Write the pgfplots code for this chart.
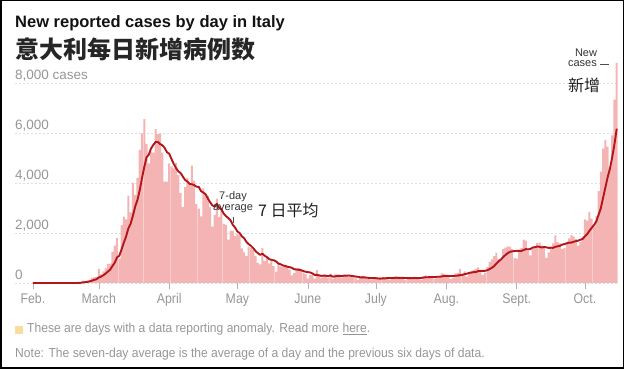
\documentclass[border=0pt]{standalone}
\usepackage{fontspec}
\setmainfont{Liberation Sans}
\newfontfamily\cond[FakeStretch=0.88]{Liberation Sans}
\newfontfamily\condb[FakeStretch=0.93]{Liberation Sans}
\newfontfamily\cjk{Noto Sans CJK SC}
\usepackage{pgfplots}
\pgfplotsset{compat=1.18}
\usepackage{pgfplotstable}
\definecolor{barc}{RGB}{244,180,180}
\definecolor{linec}{RGB}{178,22,26}
\definecolor{gridc}{RGB}{222,222,222}
\definecolor{labc}{RGB}{150,150,150}
\definecolor{anom}{RGB}{247,222,160}
\pgfplotstableread{
d c a
0 0 0
1 0 0
2 0 0
3 0 0
4 0 0
5 0 0
6 0 0
7 0 0
8 0 0
9 0 0
10 0 0
11 0 0
12 0 0
13 0 0
14 0 0
15 0 0
16 0 0
17 0 0
18 0 0
19 0 0
20 17 2
21 45 9
22 93 22
23 74 33
24 93 46
25 131 65
26 202 94
27 233 124
28 240 152
29 566 220
30 342 258
31 466 311
32 587 377
33 769 458
34 778 535
35 1247 679
36 1492 812
37 1797 1019
38 977 1092
39 2313 1339
40 2651 1608
41 2547 1861
42 3497 2182
43 2823 2372
44 4000 2687
45 3526 3051
46 4207 3322
47 5322 3703
48 5986 4194
49 6557 4632
50 5560 5023
51 4789 5135
52 5249 5381
53 5210 5525
54 6153 5643
55 5959 5640
56 5974 5556
57 5217 5507
58 4050 5402
59 4053 5231
60 4782 5170
61 4668 4958
62 4585 4761
63 4805 4594
64 4316 4466
65 3599 4401
66 3039 4256
67 3836 4121
68 4204 4055
69 3951 3964
70 4694 3948
71 4092 3916
72 3153 3853
73 2972 3843
74 2667 3676
75 3786 3616
76 3493 3551
77 3491 3379
78 3047 3230
79 2256 3102
80 2729 3067
81 3370 3167
82 2646 3005
83 3021 2937
84 2357 2775
85 2324 2672
86 1739 2598
87 2091 2507
88 2086 2323
89 1872 2213
90 1965 2062
91 1900 1997
92 1389 1863
93 1221 1789
94 1075 1644
95 1444 1552
96 1401 1485
97 1327 1394
98 1083 1277
99 802 1193
100 744 1125
101 1402 1172
102 888 1092
103 992 1034
104 789 957
105 875 927
106 675 909
107 451 867
108 813 783
109 665 751
110 642 701
111 652 682
112 669 652
113 531 632
114 300 610
115 397 551
116 584 539
117 593 532
118 516 513
119 416 477
120 355 452
121 178 434
122 318 423
123 321 385
124 177 326
125 518 326
126 270 305
127 197 283
128 280 297
129 283 292
130 202 275
131 379 304
132 163 253
133 346 264
134 338 284
135 301 287
136 210 277
137 329 295
138 333 289
139 251 301
140 262 289
141 224 273
142 218 261
143 122 248
144 190 229
145 296 223
146 259 224
147 175 212
148 174 205
149 126 192
150 142 195
151 187 194
152 201 181
153 223 175
154 235 184
155 192 187
156 208 198
157 138 198
158 193 199
159 229 203
160 276 210
161 188 203
162 234 209
163 169 204
164 114 200
165 162 196
166 230 196
167 233 190
168 249 199
169 219 197
170 190 200
171 129 202
172 282 219
173 306 230
174 252 232
175 275 236
176 255 241
177 170 238
178 212 250
179 289 251
180 386 263
181 379 281
182 295 284
183 239 281
184 159 280
185 190 277
186 384 290
187 402 293
188 552 317
189 347 325
190 463 357
191 259 371
192 412 403
193 481 417
194 523 434
195 574 437
196 629 477
197 479 480
198 320 488
199 403 487
200 642 510
201 845 556
202 947 609
203 1071 672
204 1210 777
205 953 867
206 878 935
207 1367 1039
208 1411 1120
209 1462 1193
210 1444 1246
211 1365 1269
212 996 1275
213 978 1289
214 1326 1283
215 1397 1281
216 1733 1320
217 1695 1356
218 1297 1346
219 1108 1362
220 1370 1418
221 1434 1433
222 1597 1462
223 1616 1445
224 1501 1418
225 1458 1441
226 1008 1426
227 1229 1406
228 1452 1409
229 1585 1407
230 1907 1449
231 1638 1468
232 1587 1487
233 1350 1535
234 1392 1559
235 1640 1586
236 1786 1614
237 1912 1615
238 1869 1648
239 1766 1674
240 1494 1694
241 1648 1731
242 1851 1761
243 2548 1870
244 2499 1954
245 2844 2093
246 2578 2209
247 2257 2318
248 2677 2465
249 3678 2726
250 4458 2999
251 5372 3409
252 5724 3821
253 5456 4232
254 4619 4569
255 5901 5030
256 7332 5552
257 8804 6173
}\data
\begin{document}
\begin{tikzpicture}
\useasboundingbox (0,0) rectangle (624pt,369pt);
\draw[black, line width=1.5pt] (0.75pt,0.75pt) rectangle (623.25pt,368.25pt);
% titles
\node[anchor=base west, inner sep=0pt, text=black!93] at (15pt,341.5pt) {\fontsize{16.5}{18}\selectfont\bfseries New reported cases by day in Italy};
\node[anchor=base west, inner sep=0pt, text=black!85] at (15pt,310pt) {\cjk\fontsize{24}{26}\selectfont\bfseries 意大利每日新增病例数};
\begin{axis}[
  at={(15pt,86pt)}, anchor=south west,
  scale only axis, width=604pt, height=220pt,
  xmin=-7.9, xmax=258, ymin=0, ymax=8800,
  axis line style={draw=none},
  ytick={0,2000,4000,6000,8000}, yticklabels={},
  ytick style={draw=none},
  ymajorgrids, grid style={gridc, dash pattern=on 2pt off 2pt, line width=0.6pt},
  xtick={0,29,60,90,121,151,182,213,243},
  xticklabels={Feb.,March,April,May,June,July,Aug.,Sept.,Oct.},
  xtick pos=bottom, tick align=outside, major tick length=6pt,
  xtick style={draw=black!30, line width=0.6pt},
  xticklabel style={font=\cond\fontsize{14}{14}\selectfont, text=labc, yshift=-1pt},
  clip=false,
]
\addplot[ybar, bar width=2.0pt, fill=barc, draw=none] table[x=d, y=c] {\data};
\addplot[linec, line width=1.9pt, line join=round] table[x=d, y=a] {\data};
\foreach \v/\t in {0/0,2000/{2,000},4000/{4,000},6000/{6,000},8000/{8,000 cases}}{
  \edef\tmp{\noexpand\node[anchor=base west, inner sep=0pt, text=labc, font=\noexpand\fontsize{13.5}{14}\noexpand\selectfont] at (axis cs:-7.9,\v) [yshift=3.5pt] {\t};}
  \tmp
}
\end{axis}
% 7-day average annotation
\node[inner sep=0pt, text=black!80, font=\fontsize{11}{12}\selectfont] at (233pt,172pt) {7-day};
\node[inner sep=0pt, text=black!80, font=\fontsize{11}{12}\selectfont] at (233pt,160pt) {average};
\draw[black!70, line width=0.6pt] (233pt,152pt) -- (233pt,146pt);
\node[anchor=west, inner sep=0pt, text=black!88] at (258pt,159pt) {\cjk\fontsize{16}{18}\selectfont 7 日平均};
% new cases annotation
\node[inner sep=0pt, text=black!80, font=\fontsize{11}{12}\selectfont] at (586pt,316pt) {New};
\node[anchor=east, inner sep=0pt, text=black!80, font=\fontsize{11}{12}\selectfont] at (597pt,305pt) {cases};
\draw[black!70, line width=0.7pt] (600pt,305pt) -- (609pt,305pt);
\node[inner sep=0pt, text=black!88] at (584pt,284pt) {\cjk\fontsize{16}{18}\selectfont 新增};
% footer
\fill[anom] (15pt,35pt) rectangle (23pt,43pt);
\node[anchor=west, inner sep=0pt, text=labc] at (27pt,39.5pt) {\condb\fontsize{13}{14}\selectfont These are days with a data reporting anomaly. Read more \underline{here}.};
\node[anchor=west, inner sep=0pt, text=labc] at (15pt,14.5pt) {\condb\fontsize{13}{14}\selectfont Note: The seven-day average is the average of a day and the previous six days of data.};
\end{tikzpicture}
\end{document}
